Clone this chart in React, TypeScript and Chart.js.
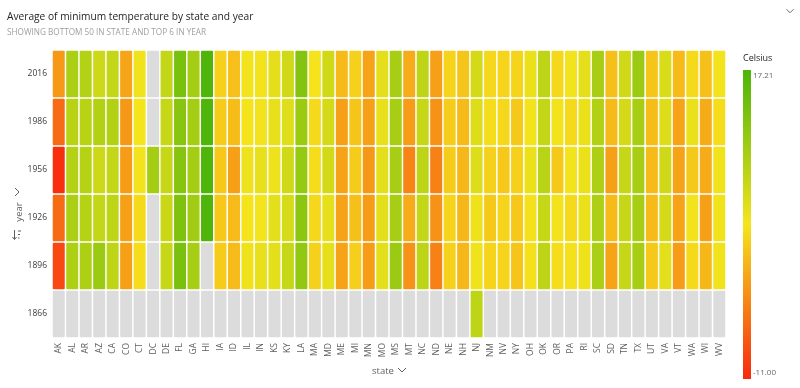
import React, { useEffect, useRef } from "react";
import { Chart, registerables } from "chart.js";
Chart.register(...registerables);

const states = ["AK","AL","AR","AZ","CA","CO","CT","DC","DE","FL","GA","HI","IA","ID","IL","IN","KS","KY","LA","MA","MD","ME","MI","MN","MO","MS","MT","NC","ND","NE","NH","NJ","NM","NV","NY","OH","OK","OR","PA","RI","SC","SD","TN","TX","UT","VA","VT","WA","WI","WV"];
const years = ["2016","1986","1956","1926","1896","1866"];

const v2016 = [-2.5,9.3,8.5,6.5,7.3,-1.7,3.5,null,7.3,13.5,9.8,17.0,1.7,0.3,3.3,3.3,4.5,6.3,12.5,3.1,6.3,0.0,1.7,-1.8,4.5,9.6,-1.2,7.7,-2.0,1.9,0.8,5.9,2.2,1.9,2.0,3.9,7.7,2.2,3.3,4.5,9.6,0.4,6.3,10.6,0.8,5.5,0.0,2.3,0.4,3.3];
const v1986 = [-6.0,8.2,8.2,8.7,8.7,-2.6,3.2,null,7.0,12.3,9.8,17.0,1.3,0.2,3.0,3.3,4.2,5.0,10.6,2.3,5.9,-2.0,0.8,-2.0,4.2,9.6,-2.3,7.0,-3.0,1.3,0.0,5.1,2.6,2.2,1.1,3.3,7.3,3.3,2.3,3.9,8.7,0.0,5.9,9.6,0.2,5.1,-1.8,3.9,-1.2,2.6];
const v1956 = [-10.5,8.5,8.4,6.5,7.3,-2.3,3.3,9.8,7.0,12.4,9.8,17.0,1.0,-2.0,3.8,4.2,3.8,6.3,11.0,2.6,6.0,-1.8,1.3,-2.6,4.6,9.6,-4.0,7.7,-4.3,1.3,-0.2,5.1,1.7,1.0,1.7,3.9,8.1,1.1,3.3,3.9,9.0,-2.0,7.0,9.6,0.0,6.3,-1.8,1.1,-1.2,3.5];
const v1926 = [-6.0,9.3,8.4,7.3,7.7,-2.0,2.3,null,6.8,13.0,10.1,17.0,1.0,0.0,3.0,3.2,4.6,5.8,11.8,2.2,4.4,-1.8,0.4,-2.3,4.6,9.6,-1.2,7.3,-3.0,1.9,-0.2,3.6,1.1,1.9,1.0,2.8,7.0,3.3,2.3,3.9,9.0,0.0,7.0,9.6,0.0,5.9,-1.8,3.3,-2.0,3.5];
const v1896 = [-8.5,9.0,9.0,10.7,7.7,-2.0,2.6,null,7.0,13.4,9.6,null,1.3,0.0,3.6,4.3,4.6,7.0,11.3,1.7,4.4,-1.8,1.5,-2.3,4.6,10.6,-3.0,7.7,-4.3,1.7,-0.2,3.5,1.9,1.9,0.8,2.8,7.7,2.6,2.8,3.6,9.3,-1.8,7.0,9.6,1.1,4.6,-2.3,2.3,-0.2,3.5];
const v1866 = [null,null,null,null,null,null,null,null,null,null,null,null,null,null,null,null,null,null,null,null,null,null,null,null,null,null,null,null,null,null,null,7.7,null,null,null,null,null,null,null,null,null,null,null,null,null,null,null,null,null,null];

const scaleMin = -11.0;
const scaleMax = 17.21;

const RED = [248, 40, 15];
const YELLOW = [245, 228, 28];
const GREEN = [76, 180, 10];
const MISSING = "rgb(220,220,220)";

function mix(a: number[], b: number[], t: number) {
  return a.map((x, i) => Math.round(x + (b[i] - x) * t));
}
function colorFor(v: number | null) {
  if (v == null) return MISSING;
  let t = (v - scaleMin) / (scaleMax - scaleMin);
  t = Math.max(0, Math.min(1, t));
  const c = t < 0.5 ? mix(RED, YELLOW, t / 0.5) : mix(YELLOW, GREEN, (t - 0.5) / 0.5);
  return `rgb(${c[0]},${c[1]},${c[2]})`;
}

const FONT = '"Open Sans", "Noto Sans", sans-serif';

function chevronDown(ctx: CanvasRenderingContext2D, cx: number, cy: number, w: number, color: string) {
  ctx.save();
  ctx.strokeStyle = color;
  ctx.lineWidth = 1;
  ctx.beginPath();
  ctx.moveTo(cx - w / 2, cy - w / 4);
  ctx.lineTo(cx, cy + w / 4);
  ctx.lineTo(cx + w / 2, cy - w / 4);
  ctx.stroke();
  ctx.restore();
}

const decorPlugin = {
  id: "decor",
  afterDraw(chart: any) {
    const ctx: CanvasRenderingContext2D = chart.ctx;
    ctx.save();
    // title
    ctx.fillStyle = "#252423";
    ctx.font = `10.2px ${FONT}`;
    ctx.textAlign = "left";
    ctx.textBaseline = "alphabetic";
    ctx.fillText("Average of minimum temperature by state and year", 7, 20);
    ctx.fillStyle = "#a0a0a0";
    ctx.font = `8.2px ${FONT}`;
    ctx.fillText("SHOWING BOTTOM 50 IN STATE AND TOP 6 IN YEAR", 7, 35);
    // top-right chevron
    chevronDown(ctx, 790, 11, 7, "#666");

    // x axis title
    ctx.fillStyle = "#605e5c";
    ctx.font = `9.5px ${FONT}`;
    ctx.textAlign = "center";
    ctx.fillText("state", 383, 374);
    chevronDown(ctx, 402, 370, 8, "#605e5c");

    // y axis title (rotated)
    ctx.save();
    ctx.translate(21, 212);
    ctx.rotate(-Math.PI / 2);
    ctx.textAlign = "center";
    ctx.textBaseline = "middle";
    ctx.fillText("year", 0, -2);
    ctx.restore();
    // rotated chevron pointing right
    ctx.save();
    ctx.strokeStyle = "#605e5c";
    ctx.lineWidth = 1;
    ctx.beginPath();
    ctx.moveTo(15, 188);
    ctx.lineTo(19, 192);
    ctx.lineTo(15, 196);
    ctx.stroke();
    // sort icon
    ctx.beginPath();
    ctx.moveTo(14.5, 230);
    ctx.lineTo(14.5, 239);
    ctx.moveTo(12.5, 237);
    ctx.lineTo(14.5, 239.5);
    ctx.lineTo(16.5, 237);
    ctx.moveTo(18, 231);
    ctx.lineTo(21, 231);
    ctx.moveTo(18, 234.5);
    ctx.lineTo(20, 234.5);
    ctx.moveTo(18, 238);
    ctx.lineTo(19.5, 238);
    ctx.stroke();
    ctx.restore();

    // legend
    ctx.fillStyle = "#252423";
    ctx.font = `9px ${FONT}`;
    ctx.textAlign = "left";
    ctx.textBaseline = "alphabetic";
    ctx.fillText("Celsius", 743, 61);
    const gx = 743, gy = 70, gw = 8, gh = 309;
    const grad = ctx.createLinearGradient(0, gy, 0, gy + gh);
    grad.addColorStop(0, colorFor(scaleMax));
    grad.addColorStop(0.5, colorFor((scaleMax + scaleMin) / 2));
    grad.addColorStop(1, colorFor(scaleMin));
    ctx.fillStyle = grad;
    ctx.fillRect(gx, gy, gw, gh);
    ctx.fillStyle = "#666";
    ctx.font = `8px ${FONT}`;
    ctx.textBaseline = "middle";
    ctx.fillText(scaleMax.toFixed(2), 753, 76);
    ctx.fillText(scaleMin.toFixed(2), 753, 373);
    ctx.restore();
  },
};

export default function App() {
  const ref = useRef<HTMLCanvasElement | null>(null);
  useEffect(() => {
    document.body.style.margin = "0";
    const rows = [v2016, v1986, v1956, v1926, v1896, v1866];
    const datasets = rows.map((vals, r) => ({
      label: years[r],
      data: states.map(() => [r + 0.018, r + 0.982]),
      backgroundColor: vals.map((v) => colorFor(v)),
      borderWidth: 0,
      borderRadius: 1,
      borderSkipped: false,
      grouped: false,
      barPercentage: 0.89,
      categoryPercentage: 1,
    }));
    const chart = new Chart(ref.current as HTMLCanvasElement, {
      type: "bar",
      data: { labels: states, datasets: datasets as any },
      plugins: [decorPlugin],
      options: {
        animation: false,
        responsive: false,
        devicePixelRatio: 1,
        layout: { padding: { top: 50, right: 74, bottom: 0, left: 0 } },
        plugins: { legend: { display: false }, tooltip: { enabled: false }, title: { display: false } },
        scales: {
          x: {
            type: "category",
            grid: { display: false, drawTicks: false },
            border: { display: false },
            ticks: {
              autoSkip: false,
              maxRotation: 90,
              minRotation: 90,
              padding: 5,
              color: "#605e5c",
              font: { family: FONT, size: 8.5 },
            },
            afterFit: (s: any) => { s.height = 50; },
          },
          y: {
            type: "linear",
            min: 0,
            max: 6,
            reverse: true,
            grid: { display: false, drawTicks: false },
            border: { display: false },
            afterBuildTicks: (s: any) => {
              s.ticks = [0.5, 1.5, 2.5, 3.5, 4.5, 5.5].map((v) => ({ value: v }));
            },
            ticks: {
              padding: 5,
              color: "#3b3a39",
              font: { family: FONT, size: 8.5 },
              callback: (v: any) => years[Math.floor(Number(v))],
            },
            afterFit: (s: any) => { s.width = 52; },
          },
        },
      },
    });
    return () => chart.destroy();
  }, []);
  return (
    <div style={{ position: "absolute", left: 0, top: 0, width: 800, height: 388, background: "#fff" }}>
      <canvas ref={ref} width={800} height={388} style={{ width: 800, height: 388 }} />
    </div>
  );
}
